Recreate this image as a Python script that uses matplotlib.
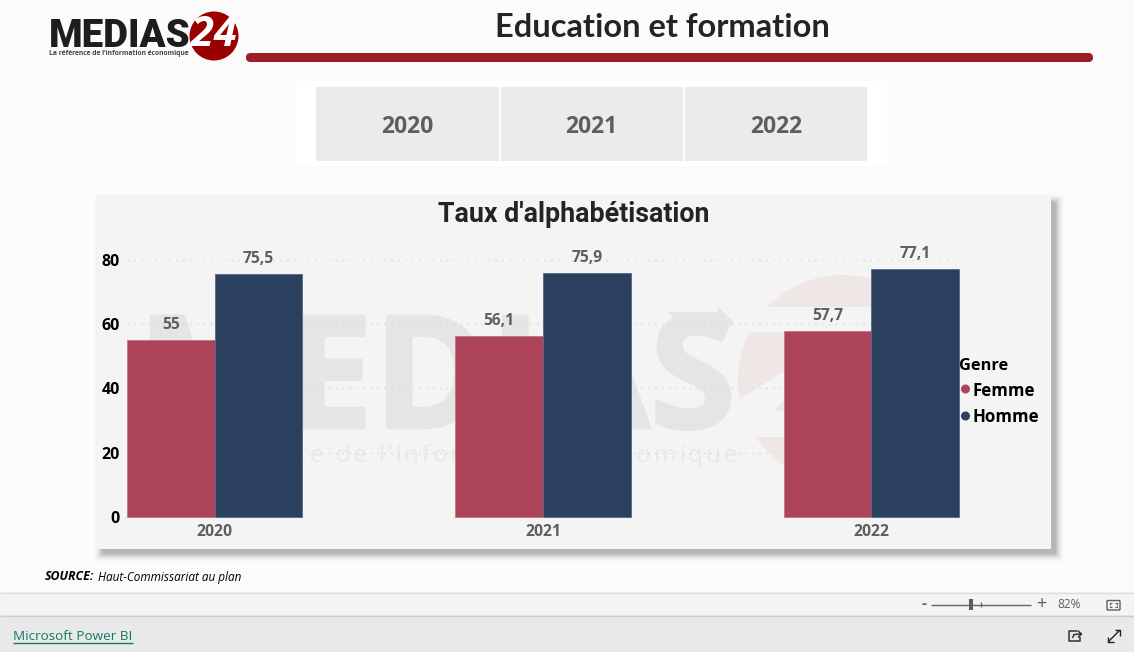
import matplotlib
matplotlib.use("Agg")
import matplotlib.pyplot as plt
import matplotlib.patheffects as pe
from matplotlib.patches import Rectangle, FancyBboxPatch, Circle, Polygon
from matplotlib.lines import Line2D
from matplotlib.font_manager import FontProperties
from matplotlib.textpath import text_to_path
import numpy as np

years = ["2020", "2021", "2022"]
femme = [55, 56.1, 57.7]
homme = [75.5, 75.9, 77.1]
value_labels_f = ["55", "56,1", "57,7"]
value_labels_h = ["75,5", "75,9", "77,1"]
yticks = [0, 20, 40, 60, 80]

W, H = 1134, 652
SANS = ["Open Sans", "Noto Sans", "DejaVu Sans"]
plt.rcParams["font.family"] = SANS
fig = plt.figure(figsize=(W / 100, H / 100), dpi=100, facecolor="#fbfbfb")

bg = fig.add_axes([0, 0, 1, 1], zorder=0)
bg.set_xlim(0, W); bg.set_ylim(H, 0); bg.axis("off")

def rect(x0, y0, x1, y1, c, z=1, **k):
    bg.add_patch(Rectangle((x0, y0), x1 - x0, y1 - y0, fc=c, ec="none", zorder=z, **k))

def seg(xs, ys, c, lw=1, z=5):
    bg.add_line(Line2D(xs, ys, color=c, lw=lw, zorder=z, solid_capstyle="butt"))

# bottom chrome
rect(0, 592, W, 615, "#f4f4f4")
rect(0, 615, W, H, "#e9e9e9")
seg([0, W], [592.5, 592.5], "#dedede", z=2)
seg([0, W], [615.5, 615.5], "#cccccc", z=2)

# logo
bg.add_patch(Circle((214, 36), 24.5, fc="#9b0000", ec="none", zorder=2))
bg.text(48.5, 47, "MEDIAS", fontsize=27.6, fontweight="black", family=["Roboto", "DejaVu Sans"],
        color="#1d1d1b", ha="left", va="baseline", zorder=3)
bg.text(214, 35, "24", fontsize=30, fontweight="bold", style="italic", color="white",
        ha="center", va="center", zorder=4)
bg.text(49, 53.5, "La référence de l’information économique", fontsize=4.85, fontweight="bold",
        color="#444444", ha="left", va="center", zorder=3)

# title and red rule
bg.text(662.5, 37, "Education et formation", fontsize=23.5, fontweight="bold",
        family=["Lato", "DejaVu Sans"], color="#252423", ha="center", va="baseline", zorder=3)
bg.add_patch(FancyBboxPatch((250.5, 57.5), 838, 0.01, boxstyle="round,pad=4.5,rounding_size=4.5",
                            fc="#9c1e28", ec="none", zorder=2))

# slicer
rect(295, 81, 887, 166, "white", 2)
for x0, x1, lab in [(316, 498.5, years[0]), (500.5, 683, years[1]), (685, 867, years[2])]:
    rect(x0, 87, x1, 161, "#ebebeb", 3)
    bg.text((x0 + x1) / 2, 127, lab, fontsize=16.5, fontweight="bold", color="#605e5c",
            ha="center", va="center", zorder=4)

# card shadow
for i, a in zip(range(8, -1, -1), [.008, .012, .018, .025, .032, .04, .048, .055, .06]):
    bg.add_patch(FancyBboxPatch((97 + 5 - i, 197 + 5 - i), 954 + 2 * i, 352 + 2 * i,
                                boxstyle="round,pad=0,rounding_size=3", fc="black", ec="none",
                                alpha=a, zorder=2))
rect(97, 197, 1051, 549, "#f4f4f4", 3)

# watermark
WM = "#e5e5e5"
CARD = "#f4f4f4"
bg.add_patch(Circle((842, 379), 104, fc="#efe6e6", ec="none", zorder=4))
bg.add_patch(Rectangle((730, 307), 160, 25, fc=CARD, ec="none", zorder=4.1))
bg.add_patch(Polygon([(735, 402), (784, 371), (784, 400), (775, 410), (784, 412), (784, 437), (735, 437)],
                     fc=CARD, ec="none", zorder=4.1))
bg.text(437, 428, "MEDIAS", fontsize=113, fontweight="bold", family=["Open Sans", "DejaVu Sans"],
        color=WM, ha="center", va="baseline", zorder=4.2,
        path_effects=[pe.withStroke(linewidth=2.2, foreground=WM)])
bg.add_patch(Polygon([(667, 312), (718, 312), (718, 307), (734, 322), (718, 338), (718, 332), (690, 332)],
                     fc=WM, ec="none", zorder=4.2))

tagline = "La référence de l’information économique"
tag_size = 17.5
tag_prop = FontProperties(family="Open Sans", size=tag_size)
def adv(s):
    w, _, _ = text_to_path.get_text_width_height_descent(s + "x", tag_prop, False)
    w0, _, _ = text_to_path.get_text_width_height_descent("x", tag_prop, False)
    return (w - w0) * 100 / 72
nat = adv(tagline)
gap = (587 - nat) / (len(tagline) - 1)
for i, ch in enumerate(tagline):
    if ch != " ":
        bg.text(150 + adv(tagline[:i]) + gap * i, 462, ch, fontproperties=tag_prop,
                color="#e9e9e9", ha="left", va="baseline", zorder=4.2)

bg.text(574, 222, "Taux d'alphabétisation", fontsize=19.3, fontweight="bold",
        family=["Roboto", "DejaVu Sans"], color="#252423", ha="center", va="baseline", zorder=5)
bg.text(45, 577, "SOURCE:", fontsize=8.9, fontweight="bold", style="italic", color="black",
        ha="left", va="center", zorder=5)
bg.text(98, 577, "Haut-Commissariat au plan", fontsize=8.5, style="italic", color="black",
        ha="left", va="center", zorder=5)

# plot axes
x0p, x1p, ytop, ybot = 127, 959, 259.5, 517
ax = fig.add_axes([x0p / W, 1 - ybot / H, (x1p - x0p) / W, (ybot - ytop) / H], zorder=2)
ax.patch.set_alpha(0)
bw = 87.7 / 328.3
ax.set_xlim(-bw, 2 + bw)
ax.set_ylim(0, 80)
x = np.arange(3)
ax.bar(x - bw / 2, femme, bw, color="#ac4359", ec="#bf7686", lw=0.6, zorder=3, label="Femme", clip_on=False)
ax.bar(x + bw / 2, homme, bw, color="#2b405e", ec="#56688a", lw=0.6, zorder=3, label="Homme", clip_on=False)
ax.set_yticks(yticks)
ax.set_xticks(x, years)
ax.yaxis.grid(True, color="#d6d6d6", lw=1, ls=(0, (1, 4)), zorder=1)
ax.set_axisbelow(True)
for s in ax.spines.values():
    s.set_visible(False)
ax.tick_params(length=0)
ax.tick_params(axis="x", pad=5, labelcolor="#605e5c", labelsize=11.3)
ax.tick_params(axis="y", pad=5, labelcolor="black", labelsize=11.5)
for t in ax.get_xticklabels() + ax.get_yticklabels():
    t.set_fontweight("bold")
for xs, vals, labs in [(x - bw / 2, femme, value_labels_f), (x + bw / 2, homme, value_labels_h)]:
    for xi, v, l in zip(xs, vals, labs):
        ax.annotate(l, (xi, v), xytext=(0, 5), textcoords="offset points", ha="center", va="bottom",
                    fontsize=11.2, fontweight="bold", color="#605e5c", zorder=5)

# legend
bg.text(959, 365.5, "Genre", fontsize=11.8, fontweight="bold", color="black", ha="left", va="center", zorder=6)
for y, lab, c in [(389, "Femme", "#ac4359"), (416, "Homme", "#2b405e")]:
    bg.add_patch(Circle((965.5, y), 4.5, fc=c, ec="none", zorder=6))
    bg.text(973, y + 1.5, lab, fontsize=12.2, fontweight="bold", color="black", ha="left", va="center", zorder=6)

# footer chrome
bg.text(13, 636.5, "Microsoft Power BI", fontsize=9.7, color="#117865", ha="left", va="center", zorder=5)
seg([13, 133], [642.5, 642.5], "#117865")
bg.text(924, 604, "-", fontsize=11, fontweight="bold", color="#605e5c", ha="center", va="center", zorder=5)
seg([931, 1031], [604.5, 604.5], "#666666")
rect(969, 599, 973, 610, "#605e5c", 6)
seg([981, 981], [602, 607], "#666666")
bg.text(1041, 604, "+", fontsize=13, color="#605e5c", ha="center", va="center", zorder=5)
bg.text(1069, 605, "82%", fontsize=8.6, color="#605e5c", ha="center", va="center", zorder=5)
bg.add_patch(FancyBboxPatch((1107, 600.5), 13, 9.5, boxstyle="round,pad=0,rounding_size=1", fc="none",
                            ec="#605e5c", lw=1, zorder=5))
for sx, sy in [(1, 1), (-1, 1), (1, -1), (-1, -1)]:
    cx, cy = 1113.5 + sx * 3.5, 605.2 + sy * 2
    seg([cx - sx * 2, cx, cx], [cy, cy, cy - sy * 1.5], "#605e5c", lw=0.8)
# share icon
seg([1077, 1069, 1069, 1080, 1080], [631, 631, 641, 641, 637], "#333333", lw=1.1)
seg([1072.5, 1074, 1081], [638, 634.5, 634], "#333333", lw=1.1)
seg([1077.5, 1081.5, 1078], [630.5, 634, 637.5], "#333333", lw=1.1)
# expand icon
seg([1108, 1120], [642, 630], "#222222", lw=1)
seg([1114.5, 1120, 1120], [630, 630, 635.5], "#222222", lw=1)
seg([1108, 1108, 1113.5], [636.5, 642, 642], "#222222", lw=1)

fig.savefig("out.png", dpi=100, facecolor=fig.get_facecolor())
